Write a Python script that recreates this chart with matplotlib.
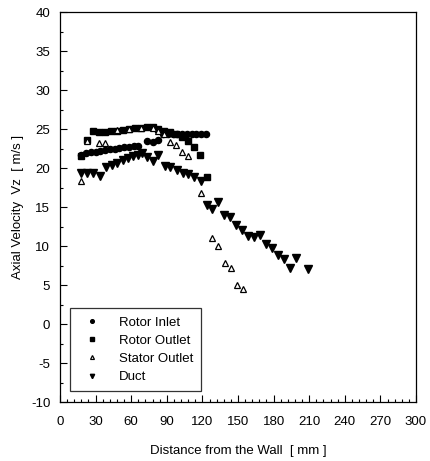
import matplotlib
matplotlib.use("Agg")
import matplotlib.pyplot as plt
from matplotlib.ticker import MultipleLocator

plt.rcParams['font.family'] = ['Liberation Sans', 'DejaVu Sans']
plt.rcParams['axes.unicode_minus'] = False

# Rotor Inlet
ri_x = [18, 22, 26, 30, 34, 38, 42, 46, 50, 54, 58, 62, 66, 73, 78, 83, 87, 91, 95, 99, 103, 107, 111, 115, 119, 123]
ri_y = [21.7, 21.9, 22.0, 22.1, 22.2, 22.3, 22.4, 22.5, 22.6, 22.7, 22.7, 22.8, 22.8, 23.5, 23.3, 23.6,
        24.3, 24.4, 24.3, 24.4, 24.4, 24.4, 24.4, 24.4, 24.4, 24.4]

# Rotor Outlet
ro_x = [18, 23, 28, 33, 38, 43, 48, 53, 58, 63, 68, 73, 78, 83, 88, 93, 98, 103, 108, 113, 118, 123.6]
ro_y = [21.6, 23.6, 24.8, 24.6, 24.6, 24.7, 24.8, 24.9, 25.0, 25.1, 25.1, 25.2, 25.2, 25.0, 24.7,
        24.6, 24.3, 24.0, 23.5, 22.7, 21.7, 18.8]

# Stator Outlet
so_x = [18, 23, 33, 38, 48, 58, 68, 78, 83, 88, 93, 98, 103, 108, 118.5, 128.3, 133.4, 139, 144.1, 149.1, 154.2]
so_y = [18.3, 23.4, 23.2, 23.2, 24.9, 25.0, 25.1, 25.1, 24.8, 24.3, 23.3, 22.9, 22.0, 21.5, 16.8,
        11.0, 10.0, 7.8, 7.2, 5.0, 4.5]

# Duct
du_x = [18, 22.5, 28, 33.7, 39, 43.5, 48.3, 53.4, 57.6, 61.8, 66, 68.8, 73, 78, 83, 88.5, 92.7, 98.3,
        103.4, 108, 113, 118.5, 123.6, 128.3, 133.4, 138.2, 143.2, 148.3, 153.3, 158.4, 163.4, 168.5,
        173.5, 178.6, 183.7, 188.7, 193.8, 198.6, 209.2]
du_y = [19.3, 19.4, 19.3, 19.0, 20.1, 20.4, 20.6, 21.0, 21.3, 21.5, 21.7, 21.9, 21.4, 20.9, 21.7,
        20.3, 20.1, 19.8, 19.4, 19.2, 18.9, 18.3, 15.3, 14.8, 15.7, 14.0, 13.7, 12.7, 12.0, 11.3,
        11.2, 11.4, 10.2, 9.7, 8.9, 8.3, 7.2, 8.4, 7.1]

xticks = list(range(0, 301, 30))
yticks = list(range(-10, 41, 5))

fig = plt.figure(figsize=(4.30, 4.61), dpi=100)
ax = fig.add_axes([60/430, 1-402/461, 356/430, 390/461])

ax.plot(ri_x, ri_y, 'o', color='black', ms=4.4, mec='black', label='Rotor Inlet', zorder=3)
ax.plot(ro_x, ro_y, 's', color='black', ms=4.2, mec='black', label='Rotor Outlet', zorder=3)
ax.plot(so_x, so_y, '^', mfc='white', mec='black', ms=4.7, mew=0.9, label='Stator Outlet', zorder=4)
ax.plot(du_x, du_y, 'v', color='black', ms=5.2, mec='black', label='Duct', zorder=3)

ax.set_xlim(0, 300)
ax.set_ylim(-10, 40)
ax.set_xticks(xticks)
ax.set_yticks(yticks)
ax.xaxis.set_minor_locator(MultipleLocator(6))
ax.yaxis.set_minor_locator(MultipleLocator(2.5))
ax.tick_params(which='both', direction='in', top=False, right=False, labelsize=9.5, colors='black')
ax.tick_params(axis='x', which='major', pad=10)
ax.tick_params(axis='y', which='major', pad=7)
ax.tick_params(which='major', length=5, width=0.8)
ax.tick_params(which='minor', length=2.5, width=0.8)
for s in ax.spines.values():
    s.set_linewidth(0.9)
    s.set_color('black')

ax.set_xlabel('Distance from the Wall  [ mm ]', fontsize=9.5, labelpad=12)
ax.set_ylabel('Axial Velocity  Vz  [ m/s ]', fontsize=9.5, labelpad=5)

leg = ax.legend(loc='lower left', bbox_to_anchor=(0.028, 0.028), fontsize=9.5, frameon=True,
                fancybox=False, edgecolor='black', markerscale=0.6, handlelength=2.2,
                handletextpad=0.9, labelspacing=0.45, borderpad=0.6, borderaxespad=0)
leg.get_frame().set_linewidth(0.9)

fig.savefig('out.png', dpi=100)
